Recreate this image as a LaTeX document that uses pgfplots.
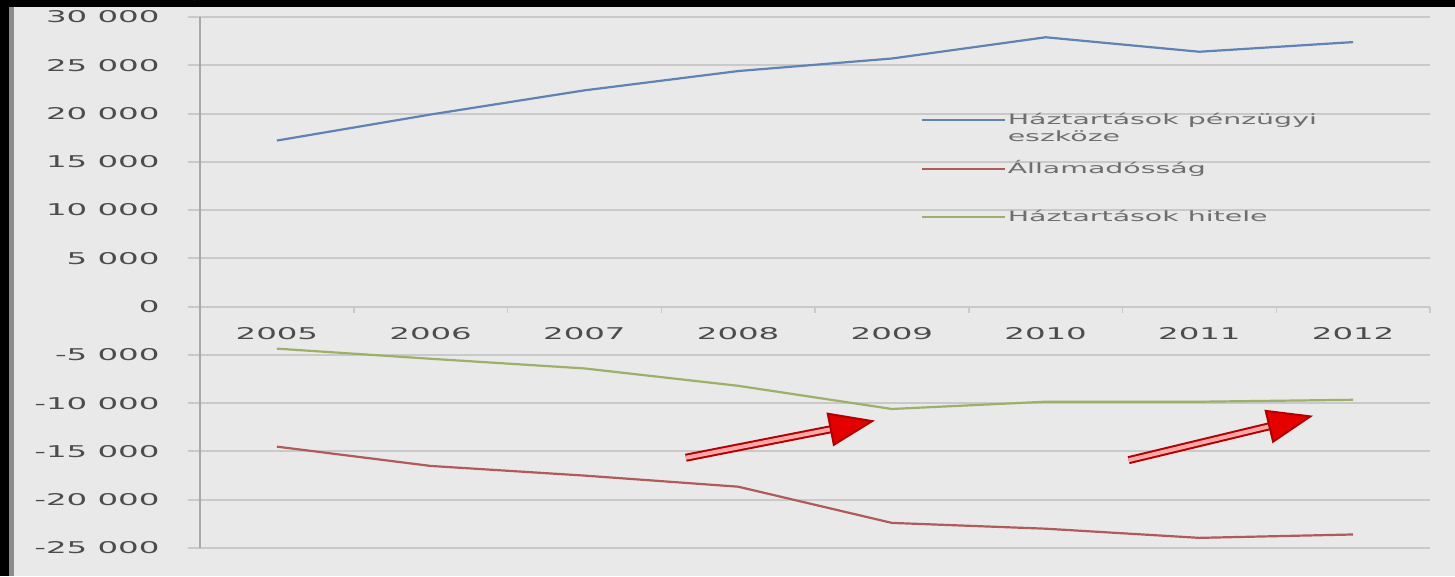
\documentclass[border=0pt]{standalone}
\usepackage{fontspec}
\setmainfont{DejaVu Sans}[FakeStretch=2.0]
\usepackage{pgfplots}
\pgfplotsset{compat=1.18}
\usetikzlibrary{arrows.meta}
\definecolor{bg}{HTML}{E9E9E9}
\definecolor{gridgray}{HTML}{C9C9C9}
\definecolor{axisgray}{HTML}{A9A9A9}
\definecolor{ticktext}{HTML}{4C4C4C}
\definecolor{legtext}{HTML}{6E6E6E}
\definecolor{sblue}{HTML}{5F84B4}
\definecolor{sred}{HTML}{B05A5A}
\definecolor{sgreen}{HTML}{9DB06A}
\begin{document}
\begin{tikzpicture}[x=1pt,y=1pt]
\fill[bg] (0,0) rectangle (1455,576);
\fill[black] (0,569) rectangle (1455,576);
\fill[black] (0,0) rectangle (9,576);
\fill[black!45] (9,0) rectangle (14,569);
\useasboundingbox (0,0) rectangle (1455,576);
\begin{axis}[
  at={(200pt,28pt)}, anchor=south west,
  scale only axis, width=1230pt, height=531pt,
  xmin=-0.5, xmax=7.5, ymin=-25000, ymax=30000,
  axis y line=left, axis x line=middle,
  axis line style={-},
  y axis line style={draw=axisgray, line width=2.5pt},
  x axis line style={draw=gridgray, line width=2pt},
  ytick={-25000,-20000,...,30000},
  yticklabels={-25 000,-20 000,-15 000,-10 000,-5 000,0,5 000,10 000,15 000,20 000,25 000,30 000},
  xtick={0,...,7},
  xticklabels={2005,2006,2007,2008,2009,2010,2011,2012},
  minor xtick={-0.5,0.5,...,7.5},
  tick align=outside,
  major tick length=12pt, minor tick length=6pt,
  major x tick style={draw=none},
  minor x tick style={draw=gridgray, line width=1.5pt},
  major y tick style={draw=gridgray, line width=2pt},
  ymajorgrids, major grid style={draw=gridgray, line width=2pt},
  tick label style={font=\fontsize{16.2}{19}\selectfont, text=ticktext},
  yticklabel style={xshift=-25pt},
  xticklabel style={yshift=-5pt},
  legend style={at={(axis cs:4.167,20400)}, anchor=north west, draw=none, fill=none,
    font=\fontsize{14.2}{17}\selectfont, text=legtext, row sep=29.5pt,
    nodes={text height=11pt, text depth=4pt}},
  legend cell align=left,
  legend image code/.code={\draw[#1, line width=2pt] (0pt,1pt) -- (83pt,1pt);},
  clip=false,
]
\addplot[sblue, line width=2.2pt] coordinates {(0,17200) (1,19900) (2,22400) (3,24400) (4,25700) (5,27900) (6,26400) (7,27400)};
\addlegendentry{\vtop{\hbox{Háztartások pénzügyi}\hbox{eszköze}}}
\addplot[sred, line width=2.2pt] coordinates {(0,-14500) (1,-16500) (2,-17500) (3,-18650) (4,-22400) (5,-23000) (6,-23950) (7,-23600)};
\addlegendentry{Államadósság}
\addplot[sgreen, line width=2.2pt] coordinates {(0,-4350) (1,-5400) (2,-6400) (3,-8200) (4,-10600) (5,-9850) (6,-9850) (7,-9650)};
\addlegendentry{Háztartások hitele}
\draw[red!70!black, double=red!35, double distance=4pt, line width=2pt, -{Triangle[length=46pt,width=34pt,fill=red!90!black]}] (axis cs:2.66,-15650) -- (axis cs:3.89,-11800);
\draw[red!70!black, double=red!35, double distance=4pt, line width=2pt, -{Triangle[length=46pt,width=34pt,fill=red!90!black]}] (axis cs:5.54,-15900) -- (axis cs:6.74,-11300);
\end{axis}
\end{tikzpicture}
\end{document}
